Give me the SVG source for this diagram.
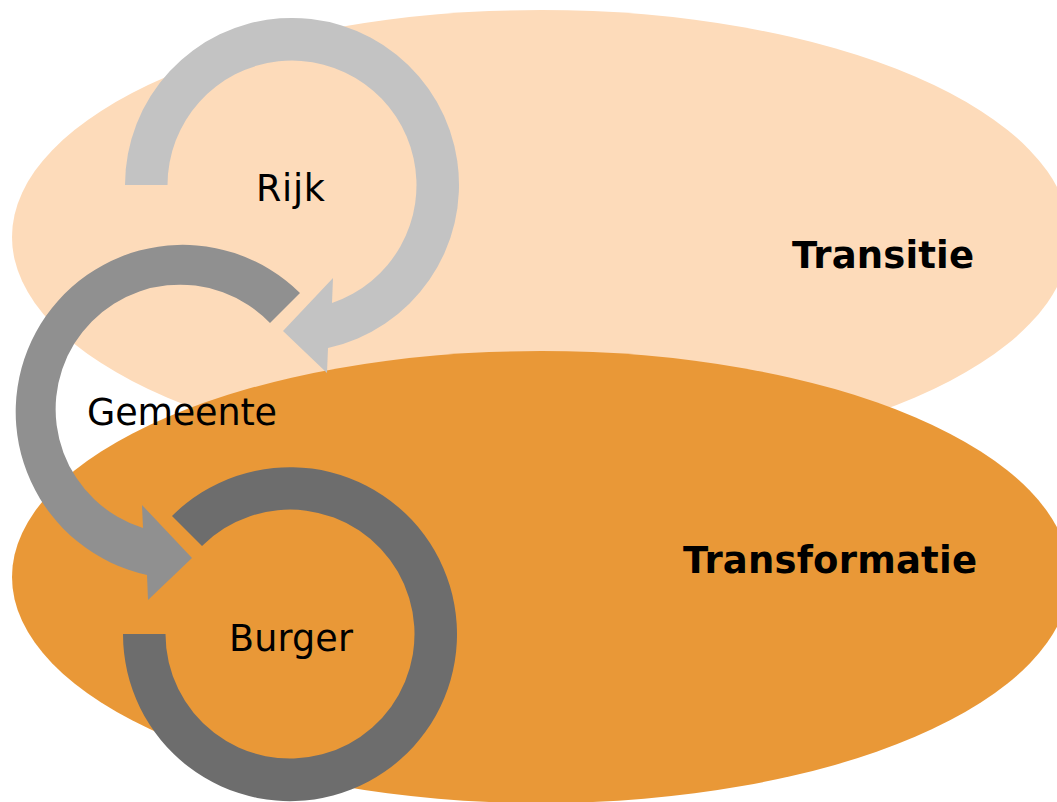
<svg xmlns="http://www.w3.org/2000/svg" width="1057" height="802" viewBox="0 0 1057 802">
<style>
.lbl{font-family:"DejaVu Sans","Verdana",sans-serif;font-size:36.5px;fill:#000}
.bold{font-weight:bold;font-size:37px}
</style>
<rect width="1057" height="802" fill="#fff"/>
<g id="transitie">
<ellipse cx="541" cy="237" rx="529" ry="227" fill="#FDDBBA"/>
<text class="lbl bold" x="792" y="268" textLength="182" lengthAdjust="spacing">Transitie</text>
</g>
<g id="transformatie">
<ellipse cx="541" cy="577" rx="529" ry="226" fill="#E99837"/>
<text class="lbl bold" x="683" y="573" textLength="294" lengthAdjust="spacing">Transformatie</text>
</g>
<g id="connectors">
<path id="arrow-rijk" fill="#C3C3C3" d="M125,185 A167,167 0 1 1 328,348 L327,373 L283,331 L333,278 L332,303 A124.5,124.5 0 1 0 167.5,185 Z"/>
<path id="arrow-gemeente" fill="#909090" d="M300,293 A167,167 0 1 0 147,575 L148,600 L192,558 L142,505 L143,528 A124.5,124.5 0 1 1 270,323 Z"/>
<path id="arrow-burger" fill="#6D6D6D" d="M172,516 A167,167 0 1 1 123,634 L165.5,634 A124.5,124.5 0 1 0 202,546 Z"/>
</g>
<g id="rijk"><text class="lbl" x="256" y="201" textLength="69" lengthAdjust="spacing">Rijk</text></g>
<g id="gemeente"><text class="lbl" x="87" y="425" textLength="190" lengthAdjust="spacing">Gemeente</text></g>
<g id="burger"><text class="lbl" x="229" y="651" textLength="124" lengthAdjust="spacing">Burger</text></g>
</svg>
